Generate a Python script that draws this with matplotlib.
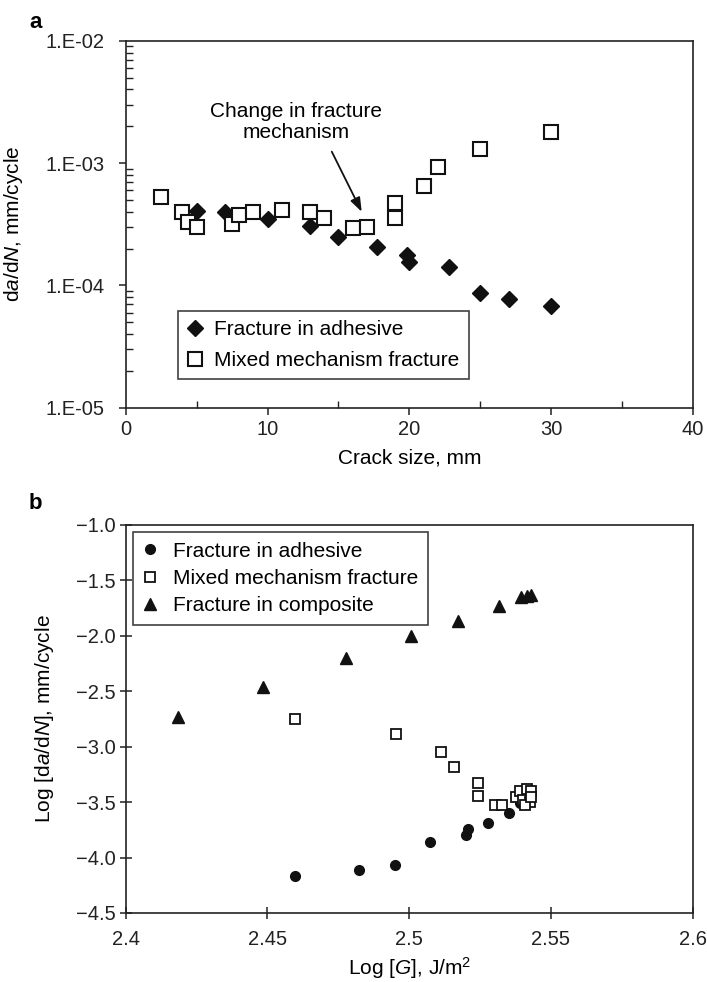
import numpy as np
import matplotlib
matplotlib.use("Agg")
import matplotlib.pyplot as plt
from matplotlib.ticker import FixedLocator, FixedFormatter, LogLocator, NullFormatter, MultipleLocator

plt.rcParams.update(
    {
        "font.family": ["Liberation Sans", "DejaVu Sans"],
        "mathtext.fontset": "custom",
        "mathtext.rm": "Liberation Sans",
        "mathtext.it": "Liberation Sans:italic",
        "axes.edgecolor": "#222222",
        "axes.linewidth": 1.2,
        "xtick.color": "#222222",
        "ytick.color": "#222222",
    }
)

INK = "#111111"

# (a) crack growth rate vs crack size
crack_adh = [5, 7, 10, 13, 15, 17.7, 19.8, 20.0, 22.8, 25, 27, 30]
rate_adh = [4.06e-4, 3.96e-4, 3.47e-4, 3.06e-4, 2.47e-4, 2.05e-4, 1.78e-4, 1.56e-4,
            1.42e-4, 8.7e-5, 7.7e-5, 6.8e-5]
crack_mix = [2.5, 4, 4.4, 5, 7.5, 8, 9, 11, 13, 14, 16, 17, 19, 19, 21, 22, 25, 30]
rate_mix = [5.3e-4, 4.0e-4, 3.3e-4, 3.0e-4, 3.2e-4, 3.77e-4, 4.0e-4, 4.14e-4, 4.0e-4,
            3.54e-4, 2.93e-4, 3.0e-4, 4.7e-4, 3.54e-4, 6.55e-4, 9.25e-4, 1.3e-3, 1.81e-3]
a_yticks = [1e-5, 1e-4, 1e-3, 1e-2]
a_yticklabels = ["1.E-05", "1.E-04", "1.E-03", "1.E-02"]
a_xticks = [0, 10, 20, 30, 40]

# (b) log rate vs log strain energy release rate
logG_adh = [2.4598, 2.4824, 2.4951, 2.5075, 2.5202, 2.5208, 2.5279, 2.5352, 2.539]
logr_adh = [-4.168, -4.114, -4.071, -3.858, -3.798, -3.744, -3.687, -3.597, -3.51]
logG_mix = [2.4597, 2.4952, 2.5112, 2.5158, 2.5241, 2.5241, 2.5302, 2.5329, 2.5375,
            2.539, 2.5414, 2.5428, 2.5402, 2.5426, 2.5408, 2.5428]
logr_mix = [-2.751, -2.886, -3.046, -3.181, -3.326, -3.443, -3.527, -3.527, -3.458,
            -3.398, -3.386, -3.398, -3.482, -3.50, -3.53, -3.452]
logG_comp = [2.4186, 2.4483, 2.4777, 2.5006, 2.5173, 2.5316, 2.5396, 2.5414, 2.5429]
logr_comp = [-2.73, -2.459, -2.203, -2.00, -1.864, -1.731, -1.653, -1.641, -1.632]
b_xticks = [2.4, 2.45, 2.5, 2.55, 2.6]
b_xticklabels = ["2.4", "2.45", "2.5", "2.55", "2.6"]
b_yticks = [-4.5, -4.0, -3.5, -3.0, -2.5, -2.0, -1.5, -1.0]

fig = plt.figure(figsize=(7.07, 9.82), dpi=100)
ax1 = fig.add_axes([0.1778, 0.5848, 0.8024, 0.3737])
ax2 = fig.add_axes([0.1778, 0.0703, 0.8020, 0.3951])

# ---- panel a ----
ax1.plot(crack_adh, rate_adh, linestyle="none", marker="D", ms=8.5, color=INK,
         label="Fracture in adhesive")
ax1.plot(crack_mix, rate_mix, linestyle="none", marker="s", ms=9.5, mfc="white",
         mec=INK, mew=1.5, label="Mixed mechanism fracture")
ax1.set_yscale("log")
ax1.set_xlim(0, 40)
ax1.set_ylim(1e-5, 1e-2)
ax1.yaxis.set_major_locator(FixedLocator(a_yticks))
ax1.yaxis.set_major_formatter(FixedFormatter(a_yticklabels))
ax1.yaxis.set_minor_locator(LogLocator(base=10, subs=np.arange(2, 10)))
ax1.yaxis.set_minor_formatter(NullFormatter())
ax1.xaxis.set_major_locator(FixedLocator(a_xticks))
ax1.xaxis.set_minor_locator(MultipleLocator(5))
ax1.tick_params(axis="both", which="major", direction="out", length=5, width=1.1,
                labelsize=14.5)
ax1.tick_params(axis="y", which="major", pad=10)
ax1.tick_params(axis="x", which="major", pad=4)
ax1.tick_params(axis="both", which="minor", direction="in", length=5, width=1.0)
ax1.set_xlabel("Crack size, mm", fontsize=15)
ax1.xaxis.set_label_coords(0.5, -0.112)
ax1.set_ylabel(r"d$a$/d$N$, mm/cycle", fontsize=15)
ax1.yaxis.set_label_coords(-0.1775, 0.5)

ax1.text(12.0, 2.16e-3, "Change in fracture\nmechanism", fontsize=15, ha="center",
         va="center", linespacing=1.15)
ax1.annotate("", xy=(16.64, 4.0e-4), xytext=(14.53, 1.24e-3),
             arrowprops=dict(arrowstyle="-|>,head_length=0.6,head_width=0.22",
                             color=INK, lw=1.3, mutation_scale=14,
                             shrinkA=0, shrinkB=0))

leg1 = ax1.legend(loc="upper left", bbox_to_anchor=(0.0917, 0.2635), borderaxespad=0,
                  fontsize=15, frameon=True, fancybox=False, handlelength=0.8,
                  handletextpad=0.5, borderpad=0.45, labelspacing=0.55)
leg1.get_frame().set_edgecolor(INK)
leg1.get_frame().set_linewidth(1.2)

# ---- panel b ----
ax2.plot(logG_adh, logr_adh, linestyle="none", marker="o", ms=7, color=INK,
         label="Fracture in adhesive")
ax2.plot(logG_mix, logr_mix, linestyle="none", marker="s", ms=6.5, mfc="white",
         mec=INK, mew=1.3, label="Mixed mechanism fracture")
ax2.plot(logG_comp, logr_comp, linestyle="none", marker="^", ms=8, color=INK,
         label="Fracture in composite")
ax2.set_xlim(2.4, 2.6)
ax2.set_ylim(-4.5, -1.0)
ax2.xaxis.set_major_locator(FixedLocator(b_xticks))
ax2.xaxis.set_major_formatter(FixedFormatter(b_xticklabels))
ax2.yaxis.set_major_locator(FixedLocator(b_yticks))
ax2.yaxis.set_major_formatter(FixedFormatter([f"\u2212{abs(v):.1f}" for v in b_yticks]))
ax2.tick_params(axis="both", which="major", direction="inout", length=9, width=1.1,
                labelsize=14.5)
ax2.tick_params(axis="x", which="major", pad=8)
ax2.tick_params(axis="y", which="major", pad=3)
ax2.set_xlabel(r"Log [$G$], J/m$^2$", fontsize=15)
ax2.xaxis.set_label_coords(0.5, -0.108)
ax2.set_ylabel(r"Log [d$a$/d$N$], mm/cycle", fontsize=15)
ax2.yaxis.set_label_coords(-0.123, 0.5)

leg2 = ax2.legend(loc="upper left", bbox_to_anchor=(0.0123, 0.981), borderaxespad=0,
                  fontsize=15, frameon=True, fancybox=False, handlelength=0.8,
                  handletextpad=0.7, borderpad=0.45, labelspacing=0.4)
leg2.get_frame().set_edgecolor(INK)
leg2.get_frame().set_linewidth(1.2)

fig.text(0.050, 0.988, "a", fontsize=16, fontweight="bold", ha="center", va="top")
fig.text(0.050, 0.498, "b", fontsize=16, fontweight="bold", ha="center", va="top")

fig.savefig("out.png", dpi=100)
